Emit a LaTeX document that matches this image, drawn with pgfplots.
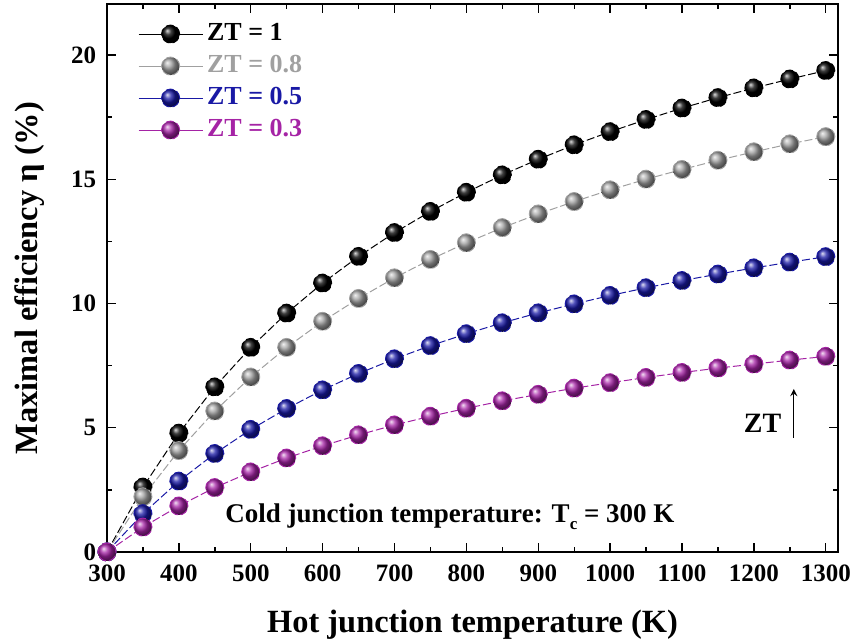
\documentclass[border=0pt]{standalone}
\usepackage{fontspec}
\setmainfont{Liberation Serif}
\usepackage{pgfplots}
\usepackage{pgfplotstable}
\pgfplotsset{compat=1.18}

\definecolor{zgray}{RGB}{160,160,160}
\definecolor{zblue}{RGB}{25,25,165}
\definecolor{zpurple}{RGB}{165,35,165}

% Maximal efficiency (%) against hot junction temperature (K), cold side at 300 K
\pgfplotstableread{
T     zt1    zt08   zt05   zt03
300   0.00   0.00   0.00   0.00
350   2.61   2.22   1.54   1.00
400   4.78   4.08   2.85   1.85
450   6.64   5.67   3.96   2.59
500   8.23   7.04   4.93   3.22
550   9.61   8.23   5.77   3.78
600   10.82  9.28   6.52   4.27
650   11.89  10.20  7.18   4.71
700   12.85  11.03  7.77   5.11
750   13.70  11.77  8.30   5.46
800   14.47  12.44  8.78   5.78
850   15.17  13.05  9.22   6.08
900   15.80  13.60  9.62   6.34
950   16.38  14.10  9.98   6.59
1000  16.91  14.57  10.32  6.81
1050  17.40  15.00  10.63  7.02
1100  17.86  15.39  10.92  7.22
1150  18.28  15.76  11.18  7.40
1200  18.67  16.10  11.43  7.56
1250  19.03  16.42  11.66  7.72
1300  19.37  16.71  11.88  7.87
}\efftable

\begin{document}
\begin{tikzpicture}
\begin{axis}[
  scale only axis,
  width=365.5pt, height=274pt,
  xmin=300, xmax=1317, ymin=0, ymax=22.05,
  xtick={300,400,...,1300}, ytick={0,5,...,20},
  minor x tick num=1, minor y tick num=1,
  tick align=inside,
  major tick length=4.5pt, minor tick length=2.5pt,
  axis line style={line width=0.8pt},
  every tick/.style={black, line width=0.7pt},
  /pgf/number format/assume math mode=true,
  /pgf/number format/1000 sep={},
  ticklabel style={font=\fontsize{12.5}{14}\selectfont\bfseries, inner sep=1pt},
  x tick label style={yshift=-5.2pt},
  y tick label style={xshift=-4.2pt},
  xlabel={Hot junction temperature (K)},
  ylabel={Maximal efficiency η (\%)},
  label style={font=\fontsize{16.2}{19}\selectfont\bfseries},
  x label style={at={(axis description cs:0.5,-0.1478)}, anchor=base},
  y label style={at={(axis description cs:-0.0944,0.5)}, anchor=base},
  clip=false,
  legend cell align=left,
  legend style={draw=none, fill=none, inner sep=0pt,
    at={(rel axis cs:0.042,0.975)}, anchor=north west,
    font=\fontsize{13}{15}\selectfont\bfseries,
    nodes={inner sep=2pt, text height=9pt, text depth=3pt},
    row sep=0pt},
  legend image code/.code={
    \draw[#1, solid, mark=none] (0pt,0pt) -- (32pt,0pt);
    \draw[#1, only marks] plot coordinates {(16pt,0pt)};
  },
  every axis plot/.append style={line width=0.5pt,
    dash pattern=on 4pt off 1.5pt, mark=ball, mark size=4.5pt},
]
\addplot[black, mark options={ball color=black}] table[x=T, y=zt1] {\efftable};
\addlegendentry{ZT = 1}
\addplot[zgray, mark options={ball color=zgray}] table[x=T, y=zt08] {\efftable};
\addlegendentry{\textcolor{zgray}{ZT = 0.8}}
\addplot[zblue, mark options={ball color=zblue}] table[x=T, y=zt05] {\efftable};
\addlegendentry{\textcolor{zblue}{ZT = 0.5}}
\addplot[zpurple, mark options={ball color=zpurple}] table[x=T, y=zt03] {\efftable};
\addlegendentry{\textcolor{zpurple}{ZT = 0.3}}

\node[font=\fontsize{13.5}{16}\selectfont\bfseries, anchor=base]
  at (axis cs:777,1.17) {Cold junction temperature: T\raisebox{-3.5pt}{\fontsize{8.5}{9}\selectfont c} = 300 K};
\node[font=\fontsize{14}{16}\selectfont\bfseries]
  at (axis cs:1212,5.19) {ZT};
\draw[-stealth, line width=0.6pt] (axis cs:1255.5,4.59) -- (axis cs:1255.5,6.56);

\coordinate (bl) at (rel axis cs:0,0);
\coordinate (tr) at (rel axis cs:1,1);
\end{axis}
\pgfresetboundingbox
\path[use as bounding box] ([shift={(-53.5pt,-46pt)}]bl) rectangle ([shift={(8.5pt,2pt)}]tr);
\end{tikzpicture}
\end{document}
